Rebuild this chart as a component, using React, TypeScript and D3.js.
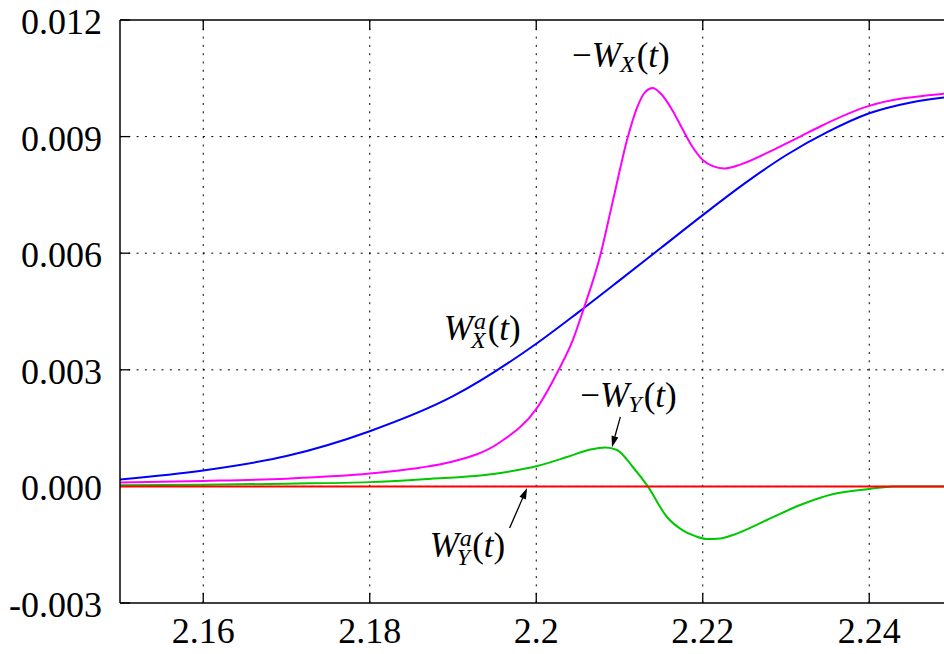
import React from "react";
import * as d3 from "d3";

// ---- data ----
const xTicks = [2.16, 2.18, 2.2, 2.22, 2.24];
const xTickLabels = ["2.16", "2.18", "2.2", "2.22", "2.24"];
const yTicks = [-0.003, 0, 0.003, 0.006, 0.009, 0.012];
const yTickLabels = ["-0.003", "0.000", "0.003", "0.006", "0.009", "0.012"];

// W_X^a(t) (blue)
const tWXa = [2.15, 2.16, 2.17, 2.18, 2.19, 2.2, 2.205, 2.21, 2.215, 2.22, 2.225, 2.23, 2.235, 2.24, 2.245, 2.25];
const vWXa = [0.00018, 0.00041, 0.00078, 0.00142, 0.00232, 0.00367, 0.00447, 0.0053, 0.00614, 0.00698, 0.00779, 0.00852, 0.00912, 0.0096, 0.00988, 0.01003];

// -W_X(t) (magenta)
const tNegWX = [2.15, 2.16, 2.17, 2.18, 2.186, 2.1896, 2.1956, 2.2001, 2.2027, 2.2044, 2.2056, 2.2077, 2.2092, 2.211, 2.2121, 2.2131, 2.214, 2.2149, 2.2164, 2.2175, 2.2187, 2.22, 2.2212, 2.2226, 2.2245, 2.2285, 2.2317, 2.2341, 2.2397, 2.2489, 2.25];
const vNegWX = [0.0001, 0.00014, 0.0002, 0.00033, 0.00048, 0.00062, 0.00113, 0.00202, 0.003, 0.00377, 0.00451, 0.00595, 0.00734, 0.00899, 0.00974, 0.01015, 0.01025, 0.01012, 0.00966, 0.00922, 0.00876, 0.0084, 0.00824, 0.00818, 0.00828, 0.00866, 0.009, 0.00926, 0.00977, 0.0101, 0.01012];

// -W_Y(t) (green)
const tNegWY = [2.15, 2.16, 2.17, 2.18, 2.186, 2.1957, 2.2001, 2.2037, 2.2065, 2.2083, 2.2097, 2.2116, 2.2134, 2.2157, 2.2176, 2.2191, 2.2205, 2.2221, 2.2236, 2.2277, 2.2317, 2.2357, 2.24, 2.2429, 2.246, 2.25];
const vNegWY = [0.00003, 0.00004, 0.00007, 0.00011, 0.00018, 0.000345, 0.000525, 0.000756, 0.000949, 0.001001, 0.000937, 0.000499, 0.0, -0.000787, -0.00113, -0.00128, -0.001355, -0.00134, -0.00125, -0.000865, -0.000479, -0.000196, -0.000067, 0.0, 0.0, 0.0];

// W_Y^a(t) (red)
const tWYa = [2.15, 2.2, 2.25];
const vWYa = [0, 0, 0];

// annotation anchors in data coordinates
const labelNegWX = { t: 2.2043, v: 0.01078 };
const labelWXa = { t: 2.1889, v: 0.00377 };
const labelNegWY = { t: 2.2053, v: 0.00204 };
const labelWYa = { t: 2.1872, v: -0.00182 };
const arrowNegWY = { t0: 2.2101, v0: 0.00179, t1: 2.2091, v1: 0.00101 };
const arrowWYa = { t0: 2.1968, v0: -0.00107, t1: 2.1989, v1: -0.00004 };

const W = 944;
const H = 654;
const left = 120;
const right = 952.5;
const top = 20;
const bottom = 603;

const x = d3.scaleLinear().domain([2.15, 2.25]).range([left, right]);
const y = d3.scaleLinear().domain([-0.003, 0.012]).range([bottom, top]);

function pathFor(ts: number[], vs: number[]) {
  const pts: [number, number][] = ts.map((t, i) => [t, vs[i]]);
  return d3
    .line<[number, number]>()
    .x((d) => x(d[0]))
    .y((d) => y(d[1]))
    .curve(d3.curveMonotoneX)(pts) as string;
}

function Arrow({ t0, v0, t1, v1 }: { t0: number; v0: number; t1: number; v1: number }) {
  const x0 = x(t0), y0 = y(v0), x1 = x(t1), y1 = y(v1);
  const dx = x1 - x0, dy = y1 - y0;
  const len = Math.hypot(dx, dy);
  const ux = dx / len, uy = dy / len;
  const hl = 11, hw = 3.5;
  const bx = x1 - ux * hl, by = y1 - uy * hl;
  const p1 = [bx - uy * hw, by + ux * hw];
  const p2 = [bx + uy * hw, by - ux * hw];
  return (
    <g>
      <line x1={x0} y1={y0} x2={bx} y2={by} stroke="#000" strokeWidth={1.3} />
      <polygon points={`${x1},${y1} ${p1[0]},${p1[1]} ${p2[0]},${p2[1]}`} fill="#000" />
    </g>
  );
}

const serif = "Liberation Serif";

function MathLabel({ t, v, sign, sub, sup }: { t: number; v: number; sign: boolean; sub: string; sup?: string }) {
  const fs = 35;
  const sfs = 24;
  return (
    <text x={x(t)} y={y(v)} style={{ fontFamily: serif, fontSize: fs }} fill="#000">
      {sign ? <tspan>−</tspan> : null}
      <tspan fontStyle="italic">W</tspan>
      {sup ? (
        <>
          <tspan fontStyle="italic" fontSize={sfs} dy={-11} dx={1}>{sup}</tspan>
          <tspan fontStyle="italic" fontSize={sfs} dy={19} dx={-15}>{sub}</tspan>
          <tspan dy={-8} dx={2}>(</tspan>
        </>
      ) : (
        <>
          <tspan fontStyle="italic" fontSize={sfs} dy={5} dx={-1}>{sub}</tspan>
          <tspan dy={-5} dx={2}>(</tspan>
        </>
      )}
      <tspan fontStyle="italic">t</tspan>
      <tspan>)</tspan>
    </text>
  );
}

export default function App() {
  return (
    <svg
      width={W}
      height={H}
      style={{ position: "absolute", left: 0, top: 0, background: "#fff" }}
    >
      <defs>
        <clipPath id="plotclip">
          <rect x={left} y={top} width={right - left} height={bottom - top} />
        </clipPath>
      </defs>
      <rect x={0} y={0} width={W} height={H} fill="#fff" />

      {/* grid */}
      <g stroke="#000" strokeWidth={1} strokeDasharray="2,6.3">
        {xTicks.map((t) => (
          <line key={"gx" + t} x1={x(t)} x2={x(t)} y1={top} y2={bottom} />
        ))}
        {yTicks.filter((v) => v > -0.003 && v < 0.012).map((v) => (
          <line key={"gy" + v} x1={left} x2={right} y1={y(v)} y2={y(v)} />
        ))}
      </g>

      {/* ticks */}
      <g stroke="#000" strokeWidth={1.3}>
        {xTicks.map((t) => (
          <g key={"tx" + t}>
            <line x1={x(t)} x2={x(t)} y1={bottom} y2={bottom - 10} />
            <line x1={x(t)} x2={x(t)} y1={top} y2={top + 10} />
          </g>
        ))}
        {yTicks.map((v) => (
          <line key={"ty" + v} x1={left} x2={left + 10} y1={y(v)} y2={y(v)} />
        ))}
      </g>

      {/* curves */}
      <g clipPath="url(#plotclip)" fill="none" strokeWidth={2} strokeLinejoin="round">
        <path d={pathFor(tWXa, vWXa)} stroke="#0000ff" />
        <path d={pathFor(tNegWX, vNegWX)} stroke="#ff00ff" />
        <path d={pathFor(tNegWY, vNegWY)} stroke="#00c800" />
        <path d={pathFor(tWYa, vWYa)} stroke="#ff0000" />
      </g>

      {/* border */}
      <g stroke="#000" strokeWidth={1.5} fill="none">
        <line x1={left} x2={right} y1={top} y2={top} />
        <line x1={left} x2={right} y1={bottom} y2={bottom} />
        <line x1={left} x2={left} y1={top} y2={bottom} />
        <line x1={right} x2={right} y1={top} y2={bottom} />
      </g>

      {/* tick labels */}
      <g fill="#000">
        {xTicks.map((t, i) => (
          <text key={"lx" + t} x={x(t)} y={643} textAnchor="middle" style={{ fontFamily: serif, fontSize: 36 }}>
            {xTickLabels[i]}
          </text>
        ))}
        {yTicks.map((v, i) => (
          <text key={"ly" + v} x={102} y={y(v) + 14} textAnchor="end" style={{ fontFamily: serif, fontSize: 36 }}>
            {yTickLabels[i]}
          </text>
        ))}
      </g>

      {/* annotations */}
      <MathLabel t={labelNegWX.t} v={labelNegWX.v} sign={true} sub="X" />
      <MathLabel t={labelWXa.t} v={labelWXa.v} sign={false} sub="X" sup="a" />
      <MathLabel t={labelNegWY.t} v={labelNegWY.v} sign={true} sub="Y" />
      <MathLabel t={labelWYa.t} v={labelWYa.v} sign={false} sub="Y" sup="a" />
      <Arrow {...arrowNegWY} />
      <Arrow {...arrowWYa} />
    </svg>
  );
}
